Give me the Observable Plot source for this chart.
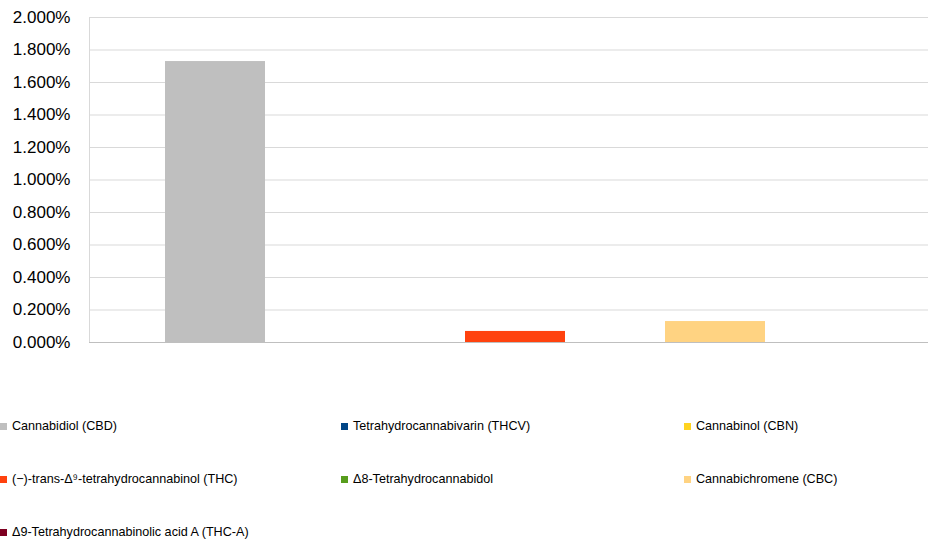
<!DOCTYPE html>
<html>
<head>
<meta charset="utf-8">
<script src="https://cdn.jsdelivr.net/npm/d3@7"></script>
<script src="https://cdn.jsdelivr.net/npm/@observablehq/plot@0.6"></script>
<style>
  html, body { margin: 0; padding: 0; background: #fff; }
  #wrap { position: relative; width: 928px; height: 542px; overflow: hidden; font-family: "Liberation Sans", Arial, sans-serif; }
  #chart svg { max-width: none !important; display: block; }
  #legend { position: absolute; left: 0; top: 399.5px; display: grid; grid-template-columns: 341px 343px 244px; grid-auto-rows: 53px; }
  .item { display: flex; align-items: center; font-size: 12.6px; color: #000; white-space: nowrap; }
  .sw { width: 7px; height: 7px; margin-right: 5px; flex: none; }
</style>
</head>
<body>
<div id="wrap"><div id="chart"></div><div id="legend"></div></div>
<script>
const series = [
  "Cannabidiol (CBD)",
  "Tetrahydrocannabivarin (THCV)",
  "Cannabinol (CBN)",
  "(−)-trans-Δ⁹-tetrahydrocannabinol (THC)",
  "Δ8-Tetrahydrocannabidol",
  "Cannabichromene (CBC)",
  "Δ9-Tetrahydrocannabinolic acid A (THC-A)"
];
const values = [0.01729, 0, 0, 0.00068, 0, 0.00129, 0];
const colors = ["#bfbfbf", "#004586", "#ffd320", "#ff420e", "#579d1c", "#ffd382", "#7e0021"];
const yTicks = [0, 0.002, 0.004, 0.006, 0.008, 0.010, 0.012, 0.014, 0.016, 0.018, 0.020];

const data = series.map((name, i) => ({name, value: values[i]}));

const chart = Plot.plot({
  width: 940,
  height: 360,
  marginLeft: 89,
  marginRight: 0,
  marginTop: 17,
  marginBottom: 18,
  style: {fontFamily: "'Liberation Sans', Arial, sans-serif", fontSize: "17px", color: "#000", background: "#fff", maxWidth: "none"},
  x: {domain: series, paddingInner: 0, paddingOuter: 0.75, axis: null},
  y: {domain: [0, 0.02], ticks: yTicks, tickFormat: d3.format(".3%"), tickSize: 0, tickPadding: 19, label: null},
  color: {domain: series, range: colors},
  marks: [
    Plot.gridY(yTicks, {stroke: "#d9d9d9", strokeOpacity: 1, strokeWidth: 1}),
    Plot.frame({stroke: "#d9d9d9", strokeWidth: 1}),
    Plot.barY(data, {x: "name", y: "value", fill: "name"}),
    Plot.ruleY([0], {stroke: "#bfbfbf", strokeWidth: 1.2})
  ]
});
document.getElementById("chart").appendChild(chart);

const legend = document.getElementById("legend");
series.forEach((name, i) => {
  const item = document.createElement("div");
  item.className = "item";
  const sw = document.createElement("span");
  sw.className = "sw";
  sw.style.background = colors[i];
  const t = document.createElement("span");
  t.textContent = name;
  item.appendChild(sw);
  item.appendChild(t);
  legend.appendChild(item);
});
</script>
</body>
</html>
